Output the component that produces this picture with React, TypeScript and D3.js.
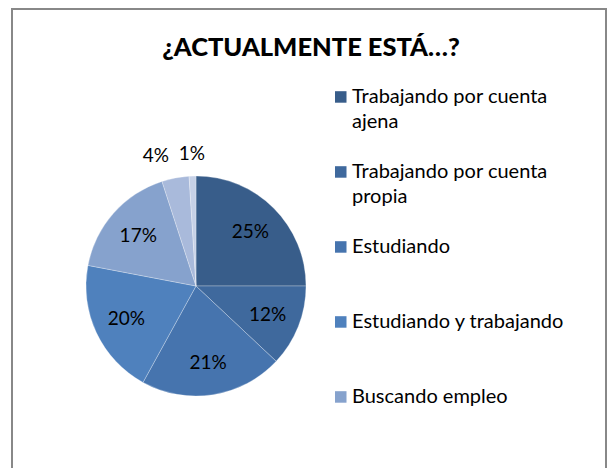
import React from "react";
import * as d3 from "d3";

const title = "¿ACTUALMENTE ESTÁ…?";
const categories = [
  "Trabajando por cuenta ajena",
  "Trabajando por cuenta propia",
  "Estudiando",
  "Estudiando y trabajando",
  "Buscando empleo",
  "Otra situación",
  "NS/NC",
];
const values = [25, 12, 21, 20, 17, 4, 1];
const colors = ["#385d8a", "#3f699d", "#4674ae", "#4f81bd", "#86a2cd", "#a9badb", "#c6d1e7"];
// legend label lines (wrapped as in the reference)
const legendLines = [
  ["Trabajando por cuenta", "ajena"],
  ["Trabajando por cuenta", "propia"],
  ["Estudiando"],
  ["Estudiando y trabajando"],
  ["Buscando empleo"],
  ["Otra situación"],
  ["NS/NC"],
];

const W = 608;
const H = 468;
const FONT = "Lato, 'Open Sans', sans-serif";

export default function App() {
  const cx = 196;
  const cy = 286;
  const r = 110;
  const pie = d3.pie<number>().sort(null).value((d) => d);
  const arcs = pie(values);
  const arcGen = d3.arc<d3.PieArcDatum<number>>().innerRadius(0).outerRadius(r);
  const inner = d3.arc<d3.PieArcDatum<number>>().innerRadius(r * 0.7).outerRadius(r * 0.7);
  const outer = d3.arc<d3.PieArcDatum<number>>().innerRadius(r + 23).outerRadius(r + 23);

  // label positions
  const labels = arcs.map((a, i) => {
    const small = values[i] < 8;
    const [x, y] = small ? outer.centroid(a) : inner.centroid(a);
    return { x, y, small, text: `${values[i]}%` };
  });
  // resolve overlap of outside labels (push earlier left)
  const outs = labels.filter((l) => l.small);
  for (let k = outs.length - 2; k >= 0; k--) {
    const a = outs[k];
    const b = outs[k + 1];
    const minGap = 36;
    if (b.x - a.x < minGap) a.x = b.x - minGap;
  }

  const legendX = 335;
  const legendBase0 = 102.7;
  const legendStep = 75;
  const lineH = 25.6;

  return (
    <svg
      width={W}
      height={H}
      style={{ position: "absolute", left: 0, top: 0, display: "block", background: "#fff" }}
    >
      <rect x={0} y={0} width={W} height={H} fill="#fff" />
      <rect x={12} y={9} width={594} height={H + 20} fill="#fff" stroke="#888888" strokeWidth={2} />
      <text
        x={311}
        y={56}
        textAnchor="middle"
        fontFamily={FONT}
        fontWeight="900"
        fontSize={25.5}
        fill="#000"
      >
        {title}
      </text>
      <g transform={`translate(${cx},${cy})`}>
        {arcs.map((a, i) => (
          <path
            key={i}
            d={arcGen(a) || ""}
            fill={colors[i]}
            stroke="#ffffff"
            strokeOpacity={0.35}
            strokeWidth={0.8}
          />
        ))}
        {labels.map((l, i) => (
          <text
            key={i}
            x={l.x}
            y={l.y}
            dy="0.35em"
            textAnchor="middle"
            fontFamily={FONT}
            fontSize={19}
            fill="#000"
          >
            {l.text}
          </text>
        ))}
      </g>
      {categories.map((c, i) => {
        const base = legendBase0 + i * legendStep;
        if (base > H) return null;
        return (
          <g key={c}>
            <rect x={legendX} y={base - 11.5} width={11.5} height={11.5} fill={colors[i]} />
            <text x={legendX + 17} y={base} fontFamily={FONT} fontSize={20} fill="#000">
              {legendLines[i].map((ln, j) => (
                <tspan key={j} x={legendX + 17} y={base + j * lineH}>
                  {ln}
                </tspan>
              ))}
            </text>
          </g>
        );
      })}
    </svg>
  );
}
